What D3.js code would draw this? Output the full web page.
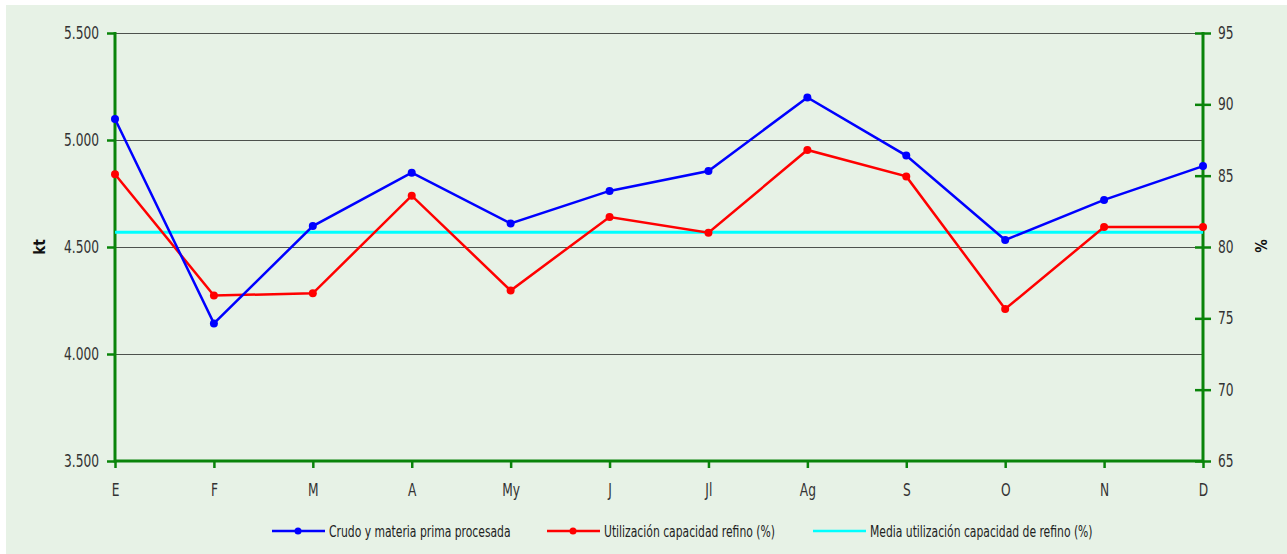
<!DOCTYPE html>
<html>
<head>
<meta charset="utf-8">
<script src="https://cdn.jsdelivr.net/npm/d3@7"></script>
<style>
  html, body { margin: 0; padding: 0; background: #ffffff; }
  svg { display: block; }
  text { font-family: "DejaVu Sans Condensed", "Liberation Sans Narrow", sans-serif; fill: #333333; }
  .narrow-end { transform-box: fill-box; transform-origin: right center; transform: scaleX(0.8); }
  .narrow-start { transform-box: fill-box; transform-origin: left center; transform: scaleX(0.8); }
  .narrow-mid { transform-box: fill-box; transform-origin: center center; transform: scaleX(0.8); }
  .narrow-legend { transform-box: fill-box; transform-origin: left center; transform: scaleX(0.75); }
</style>
</head>
<body>
<svg id="chart" width="1287" height="554"></svg>
<script>
const months = ["E", "F", "M", "A", "My", "J", "Jl", "Ag", "S", "O", "N", "D"];
const crudo = [5098, 4143, 4598, 4847, 4610, 4762, 4855, 5199, 4927, 4533, 4720, 4878];
const utilizacion = [85.1, 76.6, 76.75, 83.6, 76.95, 82.1, 81.0, 86.8, 84.95, 75.65, 81.4, 81.4];
const media = [81.03, 81.03, 81.03, 81.03, 81.03, 81.03, 81.03, 81.03, 81.03, 81.03, 81.03, 81.03];
const leftTicks = [3500, 4000, 4500, 5000, 5500];
const rightTicks = [65, 70, 75, 80, 85, 90, 95];
const seriesNames = ["Crudo y materia prima procesada", "Utilización capacidad refino (%)", "Media utilización capacidad de refino (%)"];
const leftTitle = "kt";
const rightTitle = "%";

const svg = d3.select("#chart");
const W = 1287, H = 554;
const m = { left: 115, right: 1203, top: 33, bottom: 461 };
const axisGreen = "#0a840a";

svg.append("rect").attr("x", 6).attr("y", 5).attr("width", W - 6).attr("height", H - 5).attr("fill", "#e7f2e6");

const x = d3.scalePoint().domain(months).range([m.left, m.right]).padding(0);
const yL = d3.scaleLinear().domain([3500, 5500]).range([m.bottom, m.top]);
const yR = d3.scaleLinear().domain([65, 95]).range([m.bottom, m.top]);

const fmt = d3.format(",.0f");
const fmtES = v => fmt(v).replace(/,/g, ".");

// gridlines
svg.append("g").selectAll("line").data(leftTicks.filter(t => t > 3500)).join("line")
  .attr("x1", m.left).attr("x2", m.right)
  .attr("y1", d => yL(d) + 0.5).attr("y2", d => yL(d) + 0.5)
  .attr("stroke", "#4d524d").attr("stroke-width", 1);

// left axis
const gL = svg.append("g").attr("transform", `translate(${m.left},0)`)
  .call(d3.axisLeft(yL).tickValues(leftTicks).tickFormat(fmtES).tickSize(8).tickPadding(8));
gL.select(".domain").remove();
gL.selectAll(".tick line").attr("stroke", axisGreen).attr("stroke-width", 2.5);
gL.selectAll(".tick text").attr("font-size", 17).attr("class", "narrow-end").style("fill", "#333");

// right axis
const gR = svg.append("g").attr("transform", `translate(${m.right},0)`)
  .call(d3.axisRight(yR).tickValues(rightTicks).tickSize(8).tickPadding(7));
gR.select(".domain").remove();
gR.selectAll(".tick line").attr("x1", -8).attr("stroke", axisGreen).attr("stroke-width", 2.5);
gR.selectAll(".tick text").attr("font-size", 17).attr("class", "narrow-start").style("fill", "#333");

// bottom axis
const gB = svg.append("g").attr("transform", `translate(0,${m.bottom})`)
  .call(d3.axisBottom(x).tickSize(7).tickPadding(16));
gB.select(".domain").remove();
gB.selectAll(".tick line").attr("stroke", axisGreen).attr("stroke-width", 2.5);
gB.selectAll(".tick text").attr("font-size", 17).attr("class", "narrow-mid").style("fill", "#333");

// axis lines
svg.append("line").attr("x1", m.left).attr("x2", m.right).attr("y1", m.bottom).attr("y2", m.bottom)
  .attr("stroke", axisGreen).attr("stroke-width", 3);
svg.append("line").attr("x1", m.left).attr("x2", m.left).attr("y1", m.top - 1).attr("y2", m.bottom + 1.5)
  .attr("stroke", axisGreen).attr("stroke-width", 3);
svg.append("line").attr("x1", m.right).attr("x2", m.right).attr("y1", m.top - 1).attr("y2", m.bottom + 1.5)
  .attr("stroke", axisGreen).attr("stroke-width", 3);

// axis titles
svg.append("text").attr("transform", `translate(45,247) rotate(-90)`).attr("text-anchor", "middle")
  .attr("font-size", 15).attr("font-weight", "bold").style("fill", "#111").text(leftTitle);
svg.append("text").attr("transform", `translate(1267,246) rotate(-90)`).attr("text-anchor", "middle")
  .attr("font-size", 15).attr("font-weight", "bold").style("fill", "#111").text(rightTitle);

// mean line
svg.append("path").datum(media)
  .attr("d", d3.line().x((d, i) => x(months[i])).y(d => yR(d)))
  .attr("fill", "none").attr("stroke", "#00ffff").attr("stroke-width", 3);

// red line
svg.append("path").datum(utilizacion)
  .attr("d", d3.line().x((d, i) => x(months[i])).y(d => yR(d)))
  .attr("fill", "none").attr("stroke", "#ff0000").attr("stroke-width", 2.5);
svg.append("g").selectAll("circle").data(utilizacion).join("circle")
  .attr("cx", (d, i) => x(months[i])).attr("cy", d => yR(d)).attr("r", 4).attr("fill", "#ff0000");

// blue line
svg.append("path").datum(crudo)
  .attr("d", d3.line().x((d, i) => x(months[i])).y(d => yL(d)))
  .attr("fill", "none").attr("stroke", "#0000ff").attr("stroke-width", 2.5);
svg.append("g").selectAll("circle").data(crudo).join("circle")
  .attr("cx", (d, i) => x(months[i])).attr("cy", d => yL(d)).attr("r", 4).attr("fill", "#0000ff");

// legend
const legendItems = [
  { name: seriesNames[0], color: "#0000ff", marker: true, x: 272 },
  { name: seriesNames[1], color: "#ff0000", marker: true, x: 547 },
  { name: seriesNames[2], color: "#00ffff", marker: false, x: 813 }
];
const ly = 531;
const lg = svg.append("g").selectAll("g").data(legendItems).join("g")
  .attr("transform", d => `translate(${d.x},${ly})`);
lg.append("line").attr("x1", 0).attr("x2", 53).attr("y1", 0).attr("y2", 0)
  .attr("stroke", d => d.color).attr("stroke-width", 2.5);
lg.filter(d => d.marker).append("circle").attr("cx", 26).attr("cy", 0).attr("r", 3.5).attr("fill", d => d.color);
lg.append("text").attr("x", 57).attr("y", 0).attr("dy", "0.35em").attr("font-size", 16)
  .attr("class", "narrow-legend").style("fill", "#222")
  .text(d => d.name);
</script>
</body>
</html>
